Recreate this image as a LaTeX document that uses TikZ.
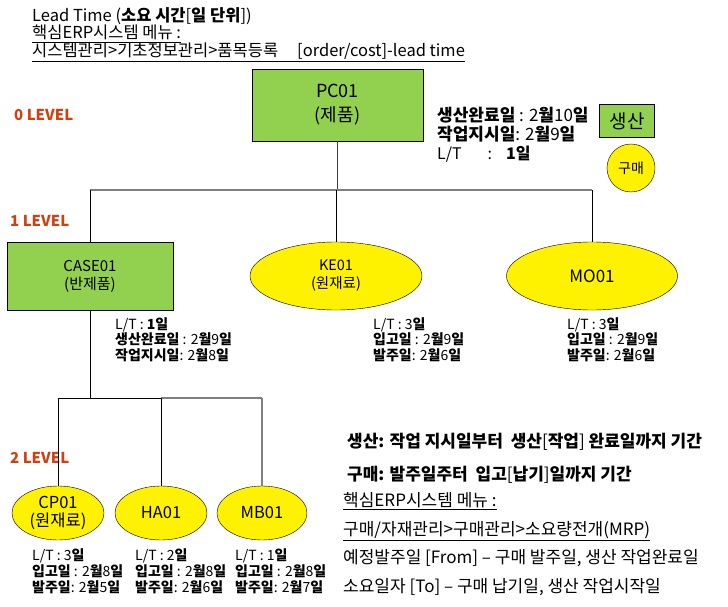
\documentclass[tikz,border=0pt]{standalone}
\usepackage{fontspec}
\setmainfont{Noto Sans CJK KR}
\usepackage{tikz}
\usetikzlibrary{positioning}
\usetikzlibrary{shapes}
\definecolor{leafgreen}{RGB}{146,208,80}
\definecolor{levelred}{RGB}{208,64,16}

\begin{document}
\begin{tikzpicture}[scale=1, x=1pt, y=-1pt,
  prod/.style={draw, fill=leafgreen, inner sep=0pt, align=center},
  raw/.style={draw, ellipse, fill=yellow, inner sep=0pt, align=center},
  txt/.style={anchor=base west, inner sep=0pt},
  info/.style={txt, font=\fontsize{14}{15}\selectfont},
  note/.style={txt, font=\fontsize{17}{20}\selectfont},
  head/.style={txt, font=\fontsize{16.5}{20}\selectfont},
  lvl/.style={txt, text=levelred, font=\fontsize{15}{18}\selectfont\bfseries},
  link/.style={draw=black, line width=1pt},
  bus/.style={draw=gray, line width=1.5pt}]

 \useasboundingbox (0,0) rectangle (728,607);

 %header
 \node[head] (title) at (32,22) {Lead Time (\textbf{소요 시간}[\textbf{일 단위}])};
 \node[head] (menu1) at (32,39) {\underline{핵심ERP시스템 메뉴 :}};
 \node[head] (menu2) at (32,57) {\underline{시스템관리>기초정보관리>품목등록\hspace{19pt}[order/cost]-lead time}};

 %levels
 \foreach \i/\x/\y in {0/14/121, 1/10/226, 2/10/463} {
   \node[lvl] (lvl\i) at (\x,\y) {\i\ LEVEL};
 }

 %level 0
 \node[prod, minimum width=171, minimum height=72, font=\fontsize{18}{24}\selectfont] (pc) at (337.5,105) {PC01\\(제품)};
 \def\dx{437}
 \node[txt, font=\fontsize{17}{18}\selectfont] (pc-d1) at (\dx,122) {\textbf{생산완료일} : 2\textbf{월}10\textbf{일}};
 \node[txt, font=\fontsize{17}{18}\selectfont] (pc-d2) at (\dx,140) {\textbf{작업지시일}: 2\textbf{월}9\textbf{일}};
 \node[txt, font=\fontsize{16}{18}\selectfont] (pc-lt) at (\dx,159) {L/T\hspace{26pt}:\hspace{14pt}\textbf{1일}};

 %legend
 \node[prod, minimum width=55, minimum height=33, font=\fontsize{19}{22}\selectfont] (make) at (627,121) {생산};
 \node[draw, circle, fill=yellow, inner sep=0pt, minimum size=48, font=\fontsize{14}{17}\selectfont] (buy) at (631,168) {구매};

 %level 1
 \node[prod, minimum width=166, minimum height=68, font=\fontsize{15}{18}\selectfont] (case) at (90,276) {CASE01\\(반제품)};
 \node[raw, minimum width=172, minimum height=68, font=\fontsize{14.5}{18}\selectfont] (ke) at (336,276) {KE01\\(원재료)};
 \node[raw, minimum width=171, minimum height=68, font=\fontsize{17}{18}\selectfont] (mo) at (592,276) {MO01};

 \foreach \nm/\x/\a/\b/\c in {
   case/115/{L/T : \textbf{1일}}/{\textbf{생산완료일} : 2\textbf{월}9\textbf{일}}/{\textbf{작업지시일}: 2\textbf{월}8\textbf{일}},
   ke/373/{L/T : 3\textbf{일}}/{\textbf{입고일} : 2\textbf{월}9\textbf{일}}/{\textbf{발주일}: 2\textbf{월}6\textbf{일}},
   mo/567/{L/T : 3\textbf{일}}/{\textbf{입고일} : 2\textbf{월}9\textbf{일}}/{\textbf{발주일}: 2\textbf{월}6\textbf{일}}} {
   \node[info] (\nm-lt) at (\x,329) {\a};
   \node[info] (\nm-d1) at (\x,344.5) {\b};
   \node[info] (\nm-d2) at (\x,360) {\c};
 }

 %level 2
 \foreach \nm/\x/\w/\name in {cp/58/92/{CP01\\(원재료)}, ha/161/92/HA01, mb/262/90/MB01} {
   \node[raw, minimum width=\w, minimum height=54, font=\fontsize{16.5}{18}\selectfont] (\nm) at (\x,513) {\name};
 }

 \foreach \nm/\x/\lt/\b/\c in {cp/32/3/8/5, ha/135/2/8/6, mb/235/1/8/7} {
   \node[info] (\nm-lt) at (\x,560) {L/T : \lt\textbf{일}};
   \node[info] (\nm-d1) at (\x,576) {\textbf{입고일} : 2\textbf{월}\b\textbf{일}};
   \node[info] (\nm-d2) at (\x,592) {\textbf{발주일}: 2\textbf{월}\c\textbf{일}};
 }

 %tree lines
 \coordinate (bus1) at (0,190);
 \coordinate (bus2) at (0,398);
 \draw[link, draw=darkgray] (pc.south) -- (pc.south |- bus1);
 \draw[bus] (case.north |- bus1) -- (mo.north |- bus1);
 \foreach \nm in {case, ke, mo} {
   \draw[link] (\nm.north |- bus1) -- (\nm.north);
 }
 \draw[link] (case.south) -- (case.south |- bus2);
 \draw[link] (cp.north |- bus2) -- (ha.north |- bus2);
 \draw[bus] (ha.north |- bus2) -- (mb.north |- bus2);
 \draw[link] (cp.north |- bus2) -- (cp.north);
 \draw[link] (ha.north |- bus2) -- (ha.north);
 \draw[bus] (mb.north |- bus2) -- (mb.north);

 %notes
 \def\dx{347}
 \node[note] (rule1) at (\dx,447) {\textbf{생산: 작업 지시일부터\ \ 생산}[\textbf{작업}] \textbf{완료일까지 기간}};
 \node[note] (rule2) at (\dx,480) {\textbf{구매: 발주일주터\ \ 입고}[\textbf{납기}]\textbf{일까지 기간}};
 \def\dx{343}
 \node[note] (menu3) at (\dx,506) {\underline{핵심ERP시스템 메뉴 :}};
 \node[note] (menu4) at (\dx,535) {\underline{구매/자재관리>구매관리>소요량전개(MRP)}};
 \node[note] (from) at (\dx,563) {예정발주일 [From] – 구매 발주일, 생산 작업완료일};
 \node[note] (to) at (\dx,592) {소요일자 [To] – 구매 납기일, 생산 작업시작일};

\end{tikzpicture}
\end{document}
